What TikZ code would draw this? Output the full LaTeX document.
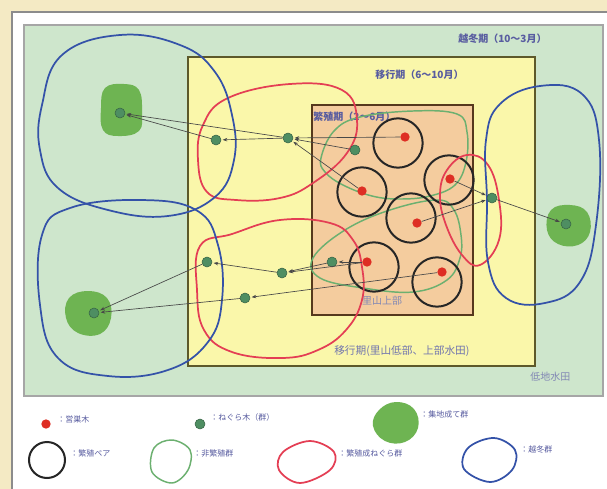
\documentclass[tikz,border=0pt]{standalone}
\usepackage{fontspec}
\newfontfamily\jp{Noto Sans CJK JP}
\usetikzlibrary{arrows.meta}
\definecolor{paper}{RGB}{244,234,196}
\definecolor{mint}{RGB}{206,230,204}
\definecolor{yel}{RGB}{250,247,170}
\definecolor{orng}{RGB}{244,204,158}
\definecolor{blobg}{RGB}{110,180,82}
\definecolor{dotg}{RGB}{78,142,98}
\definecolor{dotr}{RGB}{222,46,36}
\definecolor{loopr}{RGB}{228,62,84}
\definecolor{loopb}{RGB}{52,82,168}
\definecolor{loopg}{RGB}{108,176,112}
\definecolor{txt}{RGB}{88,92,160}
\definecolor{txtl}{RGB}{130,136,180}
\definecolor{arr}{RGB}{72,72,72}
\tikzset{
  gdot/.style={circle,fill=dotg,draw=dotg!70!black,line width=0.4pt,inner sep=0pt,minimum size=7.5pt},
  rdot/.style={circle,fill=dotr,inner sep=0pt,minimum size=7pt},
  pairc/.style={circle,draw=black!85,line width=1.5pt,inner sep=0pt,minimum size=37pt},
  link/.style={arr,line width=0.5pt,-{Stealth[length=3.5pt,width=2.6pt]},shorten >=1pt},
  lbl/.style={text=txt,font=\jp\bfseries\fontsize{7.5}{8}\selectfont,inner sep=0pt},
  lbll/.style={text=txtl,font=\jp\fontsize{7.5}{8}\selectfont,inner sep=0pt},
  leg/.style={text=txt,font=\jp\fontsize{6}{7}\selectfont,inner sep=0pt,anchor=west},
  rloop/.style={draw=loopr,line width=1.3pt},
  bloop/.style={draw=loopb,line width=1.3pt},
  gloop/.style={draw=loopg,line width=1.1pt},
}
\begin{document}
\begin{tikzpicture}[x=0.75pt,y=-0.75pt]
\useasboundingbox (0,0) rectangle (607,489);
% paper and frame
\fill[paper] (0,0) rectangle (607,489);
\fill[white] (12,12) rectangle (607,489);
\draw[black!45,line width=0.8pt] (12,489) -- (12,12) -- (607,12);
% zones
\fill[mint] (24,25) rectangle (603,396);
\draw[black!35,line width=0.8pt] (24,25) rectangle (603,396);
\fill[yel] (188,57) rectangle (535,366);
\draw[black!45!olive,line width=0.8pt] (188,57) rectangle (535,366);
\fill[orng] (312,105) rectangle (473,315);
\draw[black!55!brown,line width=0.8pt] (312,105) rectangle (473,315);
% zone labels
\node[lbl,anchor=west] (t1) at (458,39) {越冬期（10〜3月）};
\node[lbl,anchor=west] (t2) at (375,75) {移行期（6〜10月）};
\node[lbl,anchor=west] (t3) at (313,117) {繁殖期（2〜6月）};
\node[lbll,anchor=center] (t4) at (382,301) {里山上部};
\node[lbll,anchor=west,text=txt!85,font=\jp\fontsize{8}{9}\selectfont] (t5) at (334,351) {移行期(里山低部、上部水田)};
\node[lbll,anchor=west] (t6) at (530,377) {低地水田};
% winter roost blobs
\fill[blobg] plot[smooth cycle,tension=0.7] coordinates {(105,88) (124,84) (139,90) (142,112) (139,131) (118,136) (103,130) (101,108)};
\fill[blobg] plot[smooth cycle,tension=0.7] coordinates {(551,210) (570,205) (587,212) (590,232) (578,245) (558,244) (547,230)};
\fill[blobg] plot[smooth cycle,tension=0.7] coordinates {(69,298) (88,291) (107,298) (111,318) (100,334) (78,333) (66,318)};
% green non-breeding loops
\draw[gloop] plot[smooth cycle,tension=0.65] coordinates {(321,158) (334,131) (360,117) (413,111) (457,114) (467,132) (466,162) (455,185) (430,196) (400,199) (372,196) (343,185) (325,172)};
\draw[gloop] plot[smooth cycle,tension=0.65] coordinates {(313,258) (345,230) (390,210) (437,200) (454,210) (461,235) (460,258) (447,280) (413,292) (363,288) (320,278)};
% breeding pair circles
\node[pairc] (c1) at (398,143) {};
\node[pairc] (c2) at (362,192) {};
\node[pairc] (c3) at (449,180) {};
\node[pairc] (c4) at (411,218) {};
\node[pairc] (c5) at (374,267) {};
\node[pairc] (c6) at (437,282) {};
% red loops
\draw[rloop] plot[smooth cycle,tension=0.7] coordinates {(203,125) (228,98) (290,84) (342,90) (357,120) (347,153) (313,183) (280,198) (236,200) (207,192) (198,160)};
\draw[rloop] plot[smooth cycle,tension=0.7] coordinates {(200,246) (232,234) (280,220) (330,223) (353,240) (362,267) (362,300) (346,330) (318,350) (282,358) (232,352) (204,330) (197,290)};
\draw[rloop] plot[smooth cycle,tension=0.7] coordinates {(447,170) (467,155) (488,165) (499,200) (499,240) (480,265) (462,255) (446,225) (440,195)};
% blue loops
\draw[bloop] plot[smooth cycle,tension=0.7] coordinates {(42,105) (62,55) (120,35) (180,45) (215,72) (232,115) (234,160) (215,197) (168,216) (108,210) (58,188) (40,150)};
\draw[bloop] plot[smooth cycle,tension=0.7] coordinates {(42,235) (70,208) (140,200) (196,210) (218,245) (222,300) (208,342) (168,370) (108,376) (58,358) (40,305)};
\draw[bloop] plot[smooth cycle,tension=0.7] coordinates {(500,104) (540,86) (582,94) (599,140) (596,225) (580,282) (545,303) (506,298) (488,262) (487,200) (486,140)};
% nest trees
\node[rdot] (n1) at (405,137) {};
\node[rdot] (n2) at (362,191) {};
\node[rdot] (n3) at (450,179) {};
\node[rdot] (n4) at (417,223) {};
\node[rdot] (n5) at (367,262) {};
\node[rdot] (n6) at (442,272) {};
% roost trees
\node[gdot] (w1) at (120,113) {};
\node[gdot] (r216) at (216,140) {};
\node[gdot] (r290) at (288,138) {};
\node[gdot] (r355) at (355,150) {};
\node[gdot] (r492) at (492,198) {};
\node[gdot] (w2) at (566,224) {};
\node[gdot] (r207) at (207,262) {};
\node[gdot] (r282) at (282,273) {};
\node[gdot] (r333) at (332,262) {};
\node[gdot] (r245) at (245,298) {};
\node[gdot] (w3) at (94,313) {};
% movements
\draw[link] (n1) -- (r290);
\draw[link] (n2) -- (r290);
\draw[link] (r355) -- (r290);
\draw[link] (r290) -- (r216);
\draw[link] (r290) -- (w1);
\draw[link] (r216) -- (w1);
\draw[link] (n3) -- (r492);
\draw[link] (n4) -- (r492);
\draw[link] (r492) -- (w2);
\draw[link] (n5) -- (r333);
\draw[link] (r333) -- (r282);
\draw[link] (n5) -- (r282);
\draw[link] (r282) -- (r207);
\draw[link] (r207) -- (w3);
\draw[link] (n6) -- (r245);
\draw[link] (r245) -- (w3);
% legend
\node[rdot] (lr) at (46,424) {};
\node[leg] (lrt) at (57,419) {：営巣木};
\node[gdot] (lg) at (200,424) {};
\node[leg] (lgt) at (210,417) {：ねぐら木（群）};
\fill[blobg] plot[smooth cycle,tension=0.7] coordinates {(379,410) (396,402) (414,409) (418,428) (405,442) (385,441) (373,426)};
\node[leg] (lbt) at (420,414) {：集地成て群};
\node[pairc,minimum size=27pt] (lc) at (47,460) {};
\node[leg] (lct) at (70,453) {：繁殖ペア};
\draw[gloop] plot[smooth cycle,tension=0.6] coordinates {(154,448) (172,440) (190,450) (188,470) (172,483) (152,472)};
\node[leg] (lgl) at (193,453) {：非繁殖群};
\draw[rloop] plot[smooth cycle,tension=0.6] coordinates {(283,452) (310,441) (334,452) (330,470) (300,483) (279,470)};
\node[leg] (lrl) at (338,453) {：繁殖成ねぐら群};
\draw[bloop] plot[smooth cycle,tension=0.6] coordinates {(468,448) (494,438) (515,450) (512,470) (490,482) (464,469)};
\node[leg] (lbl) at (520,449) {：越冬群};
\end{tikzpicture}
\end{document}
